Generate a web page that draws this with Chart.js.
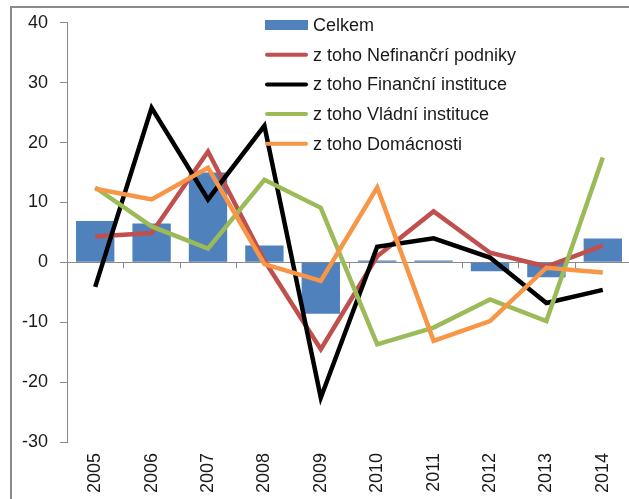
<!DOCTYPE html>
<html>
<head>
<meta charset="utf-8">
<script src="https://cdn.jsdelivr.net/npm/chart.js@4.4.0/dist/chart.umd.min.js"></script>
<style>
html, body { margin: 0; padding: 0; background: #fff; overflow: hidden; width: 629px; height: 499px; }
#frame { position: absolute; left: 10px; top: 6px; width: 700px; height: 600px; border-left: 2px solid #8a8a8a; border-top: 2px solid #8a8a8a; }
#wrap { position: absolute; left: 0; top: 0; }
</style>
</head>
<body>
<div id="frame"></div>
<div id="wrap"><canvas id="chart-canvas" width="660" height="499"></canvas></div>
<script>
// categories and series
const years = ['2005', '2006', '2007', '2008', '2009', '2010', '2011', '2012', '2013', '2014'];
const celkem = [6.9, 6.5, 15.0, 2.8, -8.6, 0.3, 0.3, -1.5, -2.5, 4.0];
const nefinancni = [4.3, 4.9, 18.5, 0.3, -14.5, 1.0, 8.5, 1.6, -0.7, 2.8];
const financni = [-4.1, 25.8, 10.5, 22.8, -22.6, 2.6, 4.0, 0.8, -6.8, -4.6];
const vladni = [12.5, 6.0, 2.3, 13.8, 9.1, -13.7, -10.9, -6.2, -9.8, 17.5];
const domacnosti = [12.3, 10.5, 15.8, -0.3, -3.1, 12.5, -13.1, -9.8, -0.9, -1.7];
const yTicks = [40, 30, 20, 10, 0, -10, -20, -30];

const FONT = '"Liberation Sans", Arial, sans-serif';
const AXIS_GREY = '#8a8a8a';

// small tick marks hanging below the zero line between categories
const zeroTicks = {
    id: 'zeroTicks',
    beforeDatasetsDraw(chart) {
        const xs = chart.scales.x, ys = chart.scales.y;
        const y0 = ys.getPixelForValue(0);
        const half = (xs.getPixelForValue(1) - xs.getPixelForValue(0)) / 2;
        const ctx = chart.ctx;
        ctx.save();
        ctx.strokeStyle = AXIS_GREY;
        ctx.lineWidth = 1;
        for (let i = 1; i < years.length; i++) {
            const x = Math.round(xs.getPixelForValue(i) - half) + 0.5;
            ctx.beginPath();
            ctx.moveTo(x, y0);
            ctx.lineTo(x, y0 + 6);
            ctx.stroke();
        }
        ctx.restore();
    }
};

// legend drawn inside the plot, top right like the original
const insideLegend = {
    id: 'insideLegend',
    afterDraw(chart) {
        const ctx = chart.ctx;
        ctx.save();
        ctx.font = '18px ' + FONT;
        ctx.textBaseline = 'middle';
        chart.data.datasets.forEach((ds, i) => {
            const y = 25 + i * 29.7;
            if (ds.type === 'bar') {
                ctx.fillStyle = ds.backgroundColor;
                ctx.fillRect(265, y - 5, 43, 10);
            } else {
                ctx.strokeStyle = ds.borderColor;
                ctx.lineWidth = 4;
                ctx.lineCap = 'round';
                ctx.beginPath();
                ctx.moveTo(267, y);
                ctx.lineTo(306, y);
                ctx.stroke();
            }
            ctx.fillStyle = '#1a1a1a';
            ctx.fillText(ds.label, 313, y + 1);
        });
        ctx.restore();
    }
};

function lineSet(label, data, color, order) {
    return {
        type: 'line',
        label: label,
        data: data,
        borderColor: color,
        backgroundColor: color,
        borderWidth: 4.5,
        pointRadius: 0,
        tension: 0,
        fill: false,
        order: order
    };
}

new Chart(document.getElementById('chart-canvas').getContext('2d'), {
    type: 'bar',
    data: {
        labels: years,
        datasets: [
            {
                type: 'bar',
                label: 'Celkem',
                data: celkem,
                backgroundColor: '#4f81bd',
                barPercentage: 0.68,
                categoryPercentage: 1.0,
                order: 5
            },
            lineSet('z toho Nefinančrí podniky', nefinancni, '#c0504d', 4),
            lineSet('z toho Finanční instituce', financni, '#000000', 3),
            lineSet('z toho Vládní instituce', vladni, '#9bbb59', 2),
            lineSet('z toho Domácnosti', domacnosti, '#f79646', 1)
        ]
    },
    options: {
        responsive: false,
        animation: false,
        layout: { padding: { top: 22, right: 29, left: 0, bottom: 0 } },
        plugins: {
            legend: { display: false },
            tooltip: { enabled: false }
        },
        scales: {
            x: {
                offset: true,
                grid: { display: false, drawTicks: false },
                border: { display: false },
                ticks: {
                    autoSkip: false,
                    minRotation: 90,
                    maxRotation: 90,
                    padding: 11,
                    color: '#1a1a1a',
                    font: { family: FONT, size: 18 }
                },
                afterFit(scale) { scale.height = 57; }
            },
            y: {
                min: -30,
                max: 40,
                afterBuildTicks(scale) {
                    scale.ticks = yTicks.map(v => ({ value: v }));
                },
                grid: {
                    color: c => (c.tick && c.tick.value === 0) ? AXIS_GREY : 'rgba(0,0,0,0)',
                    tickColor: AXIS_GREY,
                    tickLength: 7,
                    lineWidth: 1
                },
                border: { display: true, color: AXIS_GREY, width: 1 },
                ticks: {
                    padding: 12,
                    color: '#1a1a1a',
                    font: { family: FONT, size: 18 }
                },
                afterFit(scale) { scale.width = 67; }
            }
        }
    },
    plugins: [zeroTicks, insideLegend]
});
</script>
</body>
</html>
